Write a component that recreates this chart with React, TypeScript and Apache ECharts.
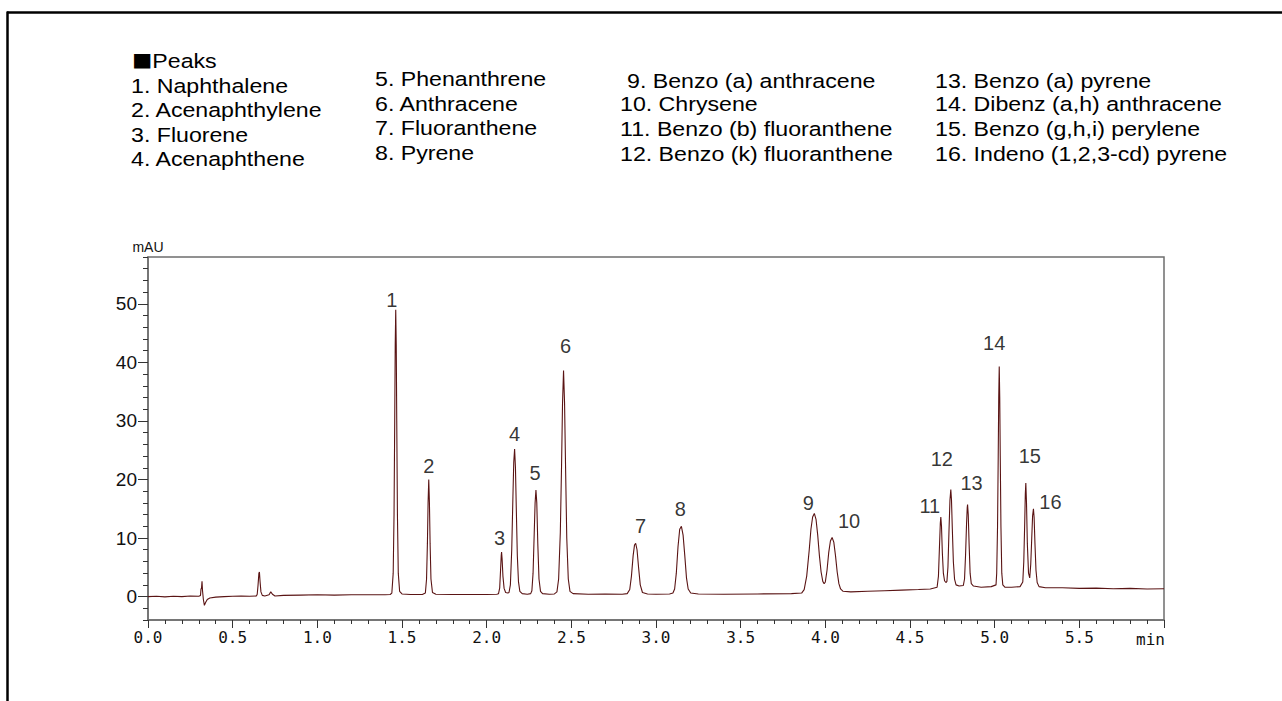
import React, { useEffect, useRef } from "react";
import * as echarts from "echarts";

// ---- Data ----
const peakNames = ["1", "2", "3", "4", "5", "6", "7", "8", "9", "10", "11", "12", "13", "14", "15", "16"];
const peakTimes = [1.463, 1.658, 2.088, 2.165, 2.291, 2.454, 2.88, 3.15, 3.935, 4.04, 4.682, 4.741, 4.84, 5.027, 5.184, 5.229];
const peakHeights = [49, 20, 7.6, 25.2, 18.2, 38.6, 9.1, 12, 14.2, 10.1, 13.6, 18.3, 15.7, 39.3, 19.4, 15.0];

const compoundNames = [
  "Naphthalene", "Acenaphthylene", "Fluorene", "Acenaphthene",
  "Phenanthrene", "Anthracene", "Fluoranthene", "Pyrene",
  "Benzo (a) anthracene", "Chrysene", "Benzo (b) fluoranthene", "Benzo (k) fluoranthene",
  "Benzo (a) pyrene", "Dibenz (a,h) anthracene", "Benzo (g,h,i) perylene", "Indeno (1,2,3-cd) pyrene",
];
const legendMark = "■";
const legendTitle = "Peaks";
const yAxisName = "mAU";
const xAxisUnit = "min";
const yMajorTicks = [0, 10, 20, 30, 40, 50];
const yMinorTicks = [-4, -2, 0, 2, 4, 6, 8, 10, 12, 14, 16, 18, 20, 22, 24, 26, 28, 30, 32, 34, 36, 38, 40, 42, 44, 46, 48, 50, 52, 54, 56, 58];

// [time (min), signal (mAU)]
const chromatogram: [number, number][] = [
  [0.0, 0.0], [0.05, 0.05], [0.1, -0.05], [0.15, 0.05], [0.2, 0.0], [0.25, 0.1], [0.3, 0.05],
  [0.31, 0.2], [0.313, 1.3], [0.316, 1.4], [0.319, 2.6], [0.322, 1.0], [0.327, -0.5], [0.333, -1.5],
  [0.34, -1.0], [0.35, -0.5], [0.365, -0.25], [0.4, -0.1], [0.45, 0.0], [0.5, 0.05], [0.55, 0.1], [0.6, 0.05], [0.64, 0.1],
  [0.645, 0.4], [0.65, 2.0], [0.655, 4.0], [0.658, 4.2], [0.662, 2.5], [0.667, 0.8], [0.675, 0.2], [0.69, 0.1],
  [0.715, 0.3], [0.725, 0.8], [0.735, 0.4], [0.75, 0.1], [0.8, 0.2], [0.9, 0.25], [1.0, 0.3], [1.1, 0.25],
  [1.2, 0.3], [1.3, 0.3], [1.4, 0.3], [1.43, 0.35],
  [1.44, 0.6], [1.448, 4], [1.453, 14], [1.457, 30], [1.46, 43], [1.463, 49], [1.466, 43], [1.469, 30],
  [1.473, 14], [1.478, 4], [1.486, 0.9], [1.5, 0.45], [1.55, 0.35], [1.62, 0.35],
  [1.638, 0.6], [1.645, 3], [1.65, 9], [1.654, 16], [1.658, 20], [1.662, 16], [1.666, 9], [1.671, 3],
  [1.68, 0.7], [1.7, 0.4], [1.8, 0.35], [1.9, 0.35], [2.0, 0.35], [2.06, 0.4],
  [2.07, 0.5], [2.077, 1.5], [2.082, 4.5], [2.086, 7.0], [2.088, 7.6], [2.091, 6.5], [2.096, 3.5],
  [2.103, 1.4], [2.112, 0.7], [2.125, 0.6], [2.132, 0.7],
  [2.14, 2], [2.148, 8], [2.155, 17], [2.16, 23], [2.165, 25.2], [2.17, 22], [2.175, 15], [2.181, 7],
  [2.188, 2.5], [2.196, 0.9], [2.21, 0.5], [2.24, 0.4], [2.26, 0.5],
  [2.267, 1], [2.274, 4], [2.281, 11], [2.286, 16], [2.291, 18.2], [2.296, 16], [2.302, 9], [2.309, 3],
  [2.318, 0.9], [2.33, 0.5], [2.37, 0.4], [2.4, 0.45],
  [2.415, 0.8], [2.425, 3], [2.435, 11], [2.442, 22], [2.448, 33], [2.454, 38.6], [2.46, 33], [2.466, 22],
  [2.473, 10], [2.482, 3], [2.492, 0.9], [2.51, 0.5], [2.6, 0.4], [2.7, 0.45], [2.8, 0.4], [2.83, 0.5],
  [2.845, 1.2], [2.855, 3.5], [2.865, 7], [2.873, 8.8], [2.88, 9.1], [2.888, 8], [2.897, 5], [2.907, 2],
  [2.92, 0.7], [2.95, 0.45], [3.0, 0.4], [3.08, 0.45], [3.1, 0.6],
  [3.11, 1.3], [3.12, 4], [3.13, 8.5], [3.14, 11.5], [3.15, 12], [3.16, 10.5], [3.17, 7], [3.18, 3.2],
  [3.19, 1.3], [3.205, 0.6], [3.25, 0.45], [3.4, 0.4], [3.6, 0.45], [3.8, 0.5], [3.86, 0.6],
  [3.875, 1.2], [3.89, 3.5], [3.905, 8], [3.915, 11.5], [3.925, 13.6], [3.935, 14.2], [3.945, 13.2],
  [3.955, 10.5], [3.965, 7], [3.975, 4.2], [3.985, 2.6], [3.993, 2.2], [4.0, 2.5],
  [4.01, 4.5], [4.02, 7.5], [4.03, 9.5], [4.04, 10.1], [4.05, 9.3], [4.06, 7], [4.07, 4.2], [4.08, 2.2],
  [4.09, 1.3], [4.105, 0.9], [4.15, 0.8], [4.25, 0.9], [4.35, 1.0], [4.45, 1.1], [4.55, 1.2], [4.62, 1.3],
  [4.66, 1.6], [4.668, 3.5], [4.674, 8.5], [4.679, 12.5], [4.682, 13.6], [4.686, 12], [4.691, 7.5],
  [4.697, 4], [4.704, 2.7], [4.712, 2.4], [4.718, 2.6],
  [4.724, 5], [4.73, 11], [4.736, 16.5], [4.741, 18.3], [4.745, 16.5], [4.75, 11.5], [4.756, 6], [4.763, 3],
  [4.772, 2.0], [4.79, 1.8], [4.815, 1.9],
  [4.822, 3], [4.828, 7], [4.834, 12.5], [4.838, 15.2], [4.84, 15.7], [4.844, 14], [4.849, 9], [4.855, 4],
  [4.862, 2.2], [4.875, 1.8], [4.92, 1.6], [4.98, 1.7], [5.008, 2],
  [5.012, 4], [5.017, 12], [5.021, 24], [5.024, 34], [5.027, 39.3], [5.03, 34], [5.033, 24], [5.037, 12],
  [5.042, 4], [5.048, 2.0], [5.06, 1.6], [5.1, 1.6], [5.15, 1.7],
  [5.166, 2.5], [5.172, 6], [5.177, 12], [5.181, 17.5], [5.184, 19.4], [5.188, 16], [5.193, 9], [5.2, 4],
  [5.207, 3.2], [5.213, 5.5], [5.219, 10], [5.224, 13.8], [5.229, 15.0], [5.233, 13.5], [5.238, 9],
  [5.244, 4.5], [5.251, 2.4], [5.262, 1.7], [5.3, 1.5], [5.4, 1.5], [5.5, 1.4], [5.6, 1.45], [5.7, 1.35],
  [5.8, 1.4], [5.9, 1.3], [6.0, 1.35],
];

// ---- Layout / style (not data) ----
const peakLabelOffsets: [number, number][] = [
  [-4, -10], [0, -13], [-2, -14], [0, -15], [-1, -17], [2, -25], [5, -17], [-1, -17],
  [-6, -10], [17, -16], [-11, -11], [-9, -30], [4, -22], [-5, -23], [4, -27], [17, -7],
];
const legendColumnX = [131, 375, 620, 935];
const legendRowY = [
  [86, 110, 135, 159],
  [79, 104, 128, 153],
  [81, 104, 129, 154],
  [81, 104, 129, 154],
];
const legendFont = "'Liberation Sans', Arial, sans-serif";
const legendSize = 20.5;
const legendScaleX = 1.13;
const traceColor = "#5a1414";
const axisColor = "#6e6e6e";

export default function App() {
  const ref = useRef<HTMLDivElement>(null);

  useEffect(() => {
    if (!ref.current) return;
    const chart = echarts.init(ref.current, undefined, { renderer: "svg" });

    const textStyleBase = {
      fill: "#000",
      fontSize: legendSize,
      fontFamily: legendFont,
      align: "left",
      verticalAlign: "middle",
      textAlign: "left",
      textVerticalAlign: "middle",
    };

    const legendTexts: any[] = [];
    legendTexts.push({
      type: "text",
      x: legendColumnX[0] + 1,
      y: 61,
      scaleX: legendScaleX,
      style: {
        ...textStyleBase,
        text: `{sq|${legendMark}}{t|${legendTitle}}`,
        rich: {
          sq: { fontSize: 18, fontFamily: "'Noto Sans CJK JP', sans-serif", fill: "#000", verticalAlign: "middle" },
          t: { fontSize: legendSize, fontFamily: legendFont, fill: "#000", verticalAlign: "middle" },
        },
      },
    });
    compoundNames.forEach((name, i) => {
      const col = Math.floor(i / 4);
      const row = i % 4;
      const num = i + 1;
      const indent = col === 2 && num < 10 ? 7 : 0;
      legendTexts.push({
        type: "text",
        x: legendColumnX[col] + indent,
        y: legendRowY[col][row],
        scaleX: legendScaleX,
        style: { ...textStyleBase, text: `${num}. ${name}` },
      });
    });

    const peakData = peakNames.map((n, i) => ({
      name: n,
      value: [peakTimes[i], peakHeights[i]],
      label: { offset: peakLabelOffsets[i] },
    }));

    const option: any = {
      animation: false,
      backgroundColor: "#fff",
      grid: {
        left: 148,
        top: 257,
        right: 118,
        bottom: 81,
        show: true,
        borderColor: axisColor,
        borderWidth: 1.5,
        backgroundColor: "transparent",
      },
      xAxis: {
        type: "value",
        min: 0,
        max: 6,
        interval: 0.5,
        axisLine: { show: true, onZero: false, lineStyle: { color: axisColor, width: 1.5 } },
        axisTick: { show: true, inside: false, length: 8, lineStyle: { color: "#333", width: 1 } },
        minorTick: { show: true, splitNumber: 5, length: 4, lineStyle: { color: "#333", width: 1 } },
        splitLine: { show: false },
        axisLabel: {
          margin: 9,
          color: "#111",
          fontSize: 16,
          fontFamily: "'DejaVu Sans Mono', 'Liberation Mono', monospace",
          formatter: (v: number) => (v >= 6 ? "" : v.toFixed(1)),
        },
      },
      yAxis: [
        {
          type: "value",
          position: "left",
          min: -4,
          max: 58,
          name: yAxisName,
          nameLocation: "end",
          nameGap: 3,
          nameTextStyle: {
            fontSize: 14,
            fontFamily: "'Liberation Sans Narrow', 'Liberation Sans', sans-serif",
            color: "#111",
            align: "center",
          },
          axisLine: { show: true, onZero: false, lineStyle: { color: axisColor, width: 1.5 } },
          axisTick: { show: true, length: 10, customValues: yMajorTicks, lineStyle: { color: "#333", width: 1 } },
          axisLabel: {
            customValues: yMajorTicks,
            margin: 11,
            color: "#111",
            fontSize: 19,
            fontFamily: "'Liberation Sans Narrow', 'Liberation Sans', sans-serif",
          },
          splitLine: { show: false },
        },
        {
          type: "value",
          position: "left",
          min: -4,
          max: 58,
          axisLine: { show: false },
          axisTick: { show: true, length: 5, customValues: yMinorTicks, lineStyle: { color: "#333", width: 1 } },
          axisLabel: { show: false },
          splitLine: { show: false },
        },
      ],
      series: [
        {
          type: "line",
          data: chromatogram,
          showSymbol: false,
          symbol: "none",
          lineStyle: { color: traceColor, width: 1.1 },
          z: 3,
        },
        {
          type: "scatter",
          data: peakData,
          symbolSize: 0,
          itemStyle: { color: "transparent" },
          label: {
            show: true,
            position: "inside",
            formatter: "{b}",
            color: "#000",
            fontSize: 20,
            fontFamily: "'Liberation Sans', Arial, sans-serif",
          },
          silent: true,
          z: 4,
        },
      ],
      graphic: [
        {
          type: "line",
          shape: { x1: 7, y1: 12.5, x2: 1282, y2: 12.5 },
          style: { stroke: "#000", lineWidth: 2.5 },
        },
        {
          type: "line",
          shape: { x1: 7.5, y1: 11.5, x2: 7.5, y2: 701 },
          style: { stroke: "#000", lineWidth: 2.5 },
        },
        ...legendTexts,
      ],
    };

    chart.setOption(option);

    const px = chart.convertToPixel({ xAxisIndex: 0 }, 6) as number;
    const py = chart.convertToPixel({ yAxisIndex: 0 }, -4) as number;
    chart.setOption({
      graphic: [
        ...option.graphic,
        {
          type: "text",
          x: px + 1,
          y: py + 19,
          style: {
            text: xAxisUnit,
            fill: "#111",
            fontSize: 16,
            fontFamily: "'DejaVu Sans Mono', 'Liberation Mono', monospace",
            align: "right",
            verticalAlign: "middle",
            textAlign: "right",
            textVerticalAlign: "middle",
          },
        },
      ],
    });

    return () => chart.dispose();
  }, []);

  return (
    <div
      ref={ref}
      style={{ position: "absolute", left: 0, top: 0, width: 1282, height: 701 }}
    />
  );
}
